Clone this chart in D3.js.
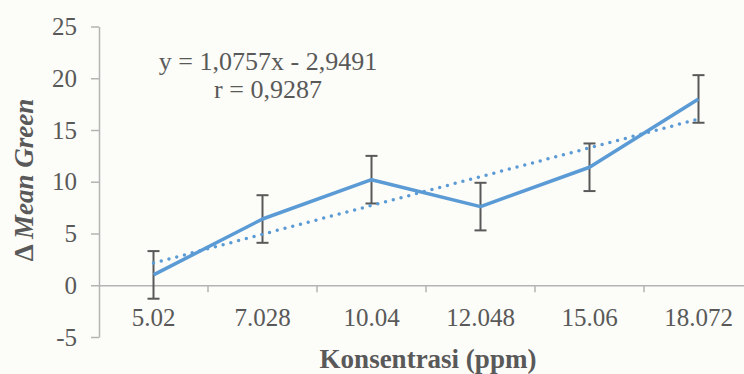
<!DOCTYPE html>
<html>
<head>
<meta charset="utf-8">
<script src="https://cdn.jsdelivr.net/npm/d3@7"></script>
<style>
  body { margin: 0; background: #fcfcf8; }
  svg { display: block; }
</style>
</head>
<body>
<div class="chart"></div>
<script>
const categories = ['5.02', '7.028', '10.04', '12.048', '15.06', '18.072'];
const meanGreen = [1.0, 6.4, 10.2, 7.6, 11.4, 18.0];
const errors = [2.3, 2.3, 2.3, 2.3, 2.3, 2.3];
const yTicks = [-5, 0, 5, 10, 15, 20, 25];
const equationLines = ['y = 1,0757x - 2,9491', 'r = 0,9287'];

const width = 744;
const height = 374;
const font = '"Liberation Serif", "Times New Roman", serif';
const textColor = '#595959';
const axisColor = '#b4b4b4';
const blue = '#5b9bd5';

const svg = d3.select('.chart')
  .append('svg')
  .attr('width', width)
  .attr('height', height);

const x = d3.scaleBand()
  .domain(categories)
  .range([99, 753]);

const y = d3.scaleLinear()
  .domain([-5, 25])
  .range([337, 26.5]);

const cx = d => x(d) + x.bandwidth() / 2;

// y axis
const yAxis = svg.append('g')
  .attr('transform', 'translate(99,0)')
  .call(d3.axisLeft(y).tickValues(yTicks).tickFormat(d => String(d))
    .tickSize(8).tickSizeOuter(0).tickPadding(14));
yAxis.select('.domain').attr('stroke', axisColor).attr('stroke-width', 1.5);
yAxis.selectAll('.tick line').attr('stroke', axisColor).attr('stroke-width', 1.5);
yAxis.selectAll('text')
  .attr('font-family', font)
  .attr('font-size', '25px')
  .attr('fill', textColor);

// x axis on zero
const xAxis = svg.append('g')
  .attr('transform', `translate(0,${y(0)})`)
  .call(d3.axisBottom(x).tickSize(0).tickSizeOuter(0).tickPadding(23));
xAxis.select('.domain').attr('stroke', axisColor).attr('stroke-width', 1.5);
xAxis.selectAll('text')
  .attr('font-family', font)
  .attr('font-size', '25px')
  .attr('fill', textColor);

// category boundary ticks
xAxis.selectAll('.sep')
  .data(categories.slice(1))
  .enter()
  .append('line')
  .attr('x1', d => x(d))
  .attr('x2', d => x(d))
  .attr('y1', 0)
  .attr('y2', 7)
  .attr('stroke', axisColor)
  .attr('stroke-width', 1.5);

// error bars
const bars = svg.append('g')
  .selectAll('g')
  .data(categories)
  .enter()
  .append('g')
  .attr('stroke', '#595959')
  .attr('stroke-width', 2);

bars.append('line')
  .attr('x1', d => cx(d))
  .attr('x2', d => cx(d))
  .attr('y1', (d, i) => y(meanGreen[i] + errors[i]))
  .attr('y2', (d, i) => y(meanGreen[i] - errors[i]));

bars.append('line')
  .attr('x1', d => cx(d) - 6)
  .attr('x2', d => cx(d) + 6)
  .attr('y1', (d, i) => y(meanGreen[i] + errors[i]))
  .attr('y2', (d, i) => y(meanGreen[i] + errors[i]));

bars.append('line')
  .attr('x1', d => cx(d) - 6)
  .attr('x2', d => cx(d) + 6)
  .attr('y1', (d, i) => y(meanGreen[i] - errors[i]))
  .attr('y2', (d, i) => y(meanGreen[i] - errors[i]));

// data line
const line = d3.line()
  .x(d => cx(d.c))
  .y(d => y(d.v));

const points = categories.map((c, i) => ({ c: c, v: meanGreen[i] }));

svg.append('path')
  .datum(points)
  .attr('fill', 'none')
  .attr('stroke', blue)
  .attr('stroke-width', 3.5)
  .attr('stroke-linejoin', 'round')
  .attr('d', line);

// linear trendline (least squares over category index, like excel)
const idx = categories.map((c, i) => i + 1);
const mx = d3.mean(idx);
const my = d3.mean(meanGreen);
const slope = d3.sum(idx, (v, i) => (v - mx) * (meanGreen[i] - my)) / d3.sum(idx, v => (v - mx) * (v - mx));
const intercept = my - slope * mx;
const trend = [0, categories.length - 1].map(i => ({ c: categories[i], v: intercept + slope * idx[i] }));

svg.append('path')
  .datum(trend)
  .attr('fill', 'none')
  .attr('stroke', blue)
  .attr('stroke-width', 3.5)
  .attr('stroke-linecap', 'round')
  .attr('stroke-dasharray', '0,8')
  .attr('d', line);

// equation
svg.append('g')
  .selectAll('text')
  .data(equationLines)
  .enter()
  .append('text')
  .attr('x', 268)
  .attr('y', (d, i) => 70 + i * 28)
  .attr('text-anchor', 'middle')
  .attr('font-family', font)
  .attr('font-size', '26px')
  .attr('fill', textColor)
  .text(d => d);

// axis titles
svg.append('text')
  .attr('x', 428)
  .attr('y', 368)
  .attr('text-anchor', 'middle')
  .attr('font-family', font)
  .attr('font-size', '27px')
  .attr('font-weight', 'bold')
  .attr('fill', textColor)
  .text('Konsentrasi (ppm)');

const yTitle = svg.append('text')
  .attr('transform', 'translate(33,180) rotate(-90)')
  .attr('text-anchor', 'middle')
  .attr('font-family', font)
  .attr('font-size', '27px')
  .attr('font-weight', 'bold')
  .attr('fill', textColor);
yTitle.append('tspan').text('Δ ');
yTitle.append('tspan').attr('font-style', 'italic').text('Mean Green');
</script>
</body>
</html>
